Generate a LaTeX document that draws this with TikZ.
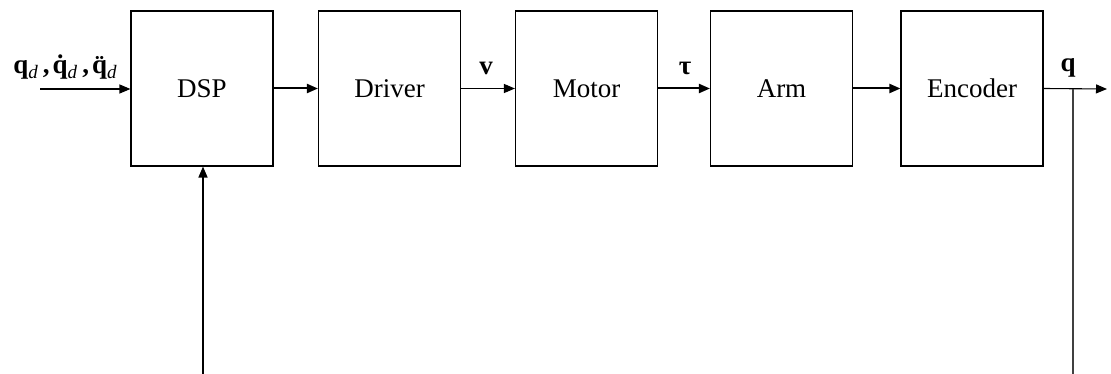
\documentclass[tikz,border=0pt]{standalone}
\usepackage{fontspec}
\setmainfont{Liberation Serif}
\usetikzlibrary{arrows.meta}
\newcommand{\subd}{\raisebox{-5pt}{\textit{\mdseries\fontsize{19}{20}\selectfont d}}}
\begin{document}
\begin{tikzpicture}[x=1pt,y=-1pt,
  blk/.style={draw,line width=1.1pt,minimum width=142pt,minimum height=155pt,inner sep=0pt,font=\fontsize{27}{30}\selectfont},
  sig/.style={line width=1.1pt,-{Triangle[length=11pt,width=9pt]}},
  tsig/.style={line width=2pt,-{Triangle[length=11pt,width=9pt]}},
  lbl/.style={font=\fontsize{27}{30}\selectfont\bfseries,inner sep=0pt}]
\useasboundingbox (0,0) rectangle (1111,374);
\node[blk] (dsp) at (202,88.5) {DSP};
\node[blk] (drv) at (389.5,88.5) {Driver};
\node[blk] (mot) at (586.5,88.5) {Motor};
\node[blk] (arm) at (781.5,88.5) {Arm};
\node[blk] (enc) at (972,88.5) {Encoder};
\coordinate (in) at (40,89);
\coordinate (out) at (1107,89);
\coordinate (tap) at (1073,89);
\coordinate (bR) at (1073,374);
\coordinate (bL) at (203,374);
\draw[sig] (in) -- (in -| dsp.west);
\draw[tsig] (dsp.east) -- (drv.west);
\draw[sig] (drv.east) -- (mot.west);
\draw[tsig] (mot.east) -- (arm.west);
\draw[tsig] (arm.east) -- (enc.west);
\draw[sig] (enc.east) -- (out);
\draw[line width=1.6pt,black!75] (tap) -- (bR);
\draw[line width=1.6pt,-{Triangle[length=11pt,width=9pt]}] (bL) -- (bL |- dsp.south);
\node[lbl] (qin) at (65,67) {q\subd\hspace{5pt},\hspace{3pt}\.{q}\subd\hspace{5pt},\hspace{3pt}\"{q}\subd};
\node[lbl] (lv) at (486,68) {v};
\node[lbl] (lt) at (685,68) {τ};
\node[lbl] (lq) at (1068,68) {q};
\end{tikzpicture}
\end{document}
